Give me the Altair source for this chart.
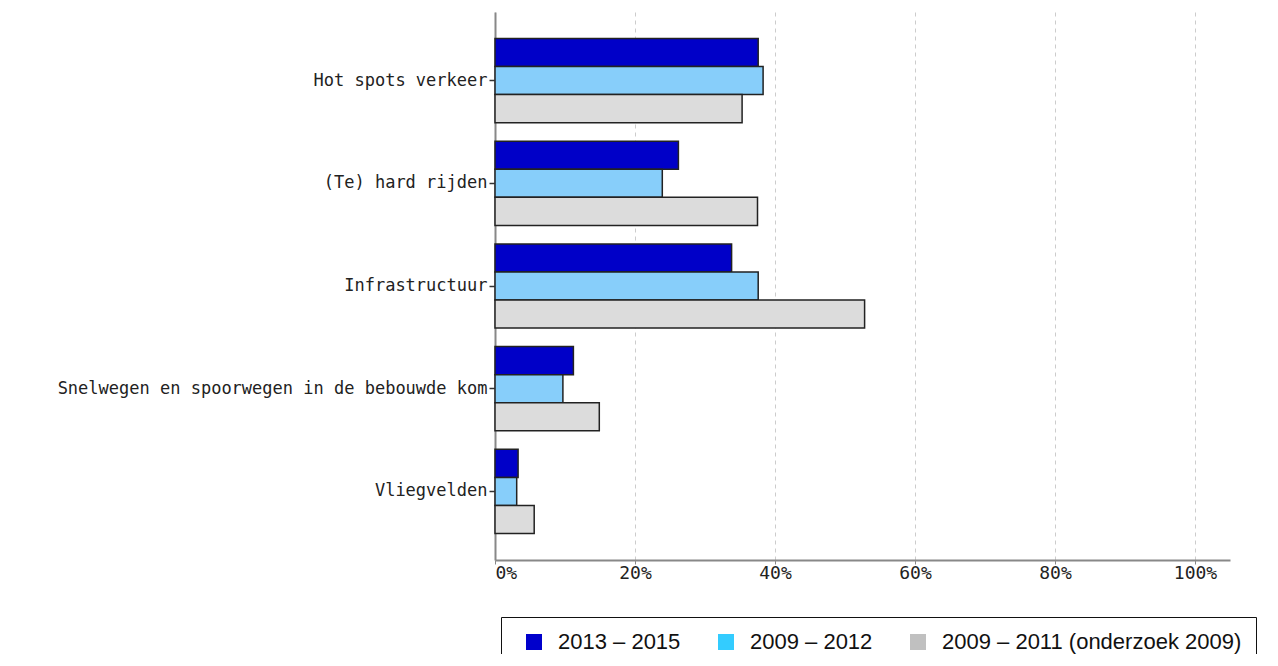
import altair as alt
import pandas as pd

categories = ["Hot spots verkeer", "(Te) hard rijden", "Infrastructuur",
              "Snelwegen en spoorwegen in de bebouwde kom", "Vliegvelden"]
series = ["2013 – 2015", "2009 – 2012", "2009 – 2011 (onderzoek 2009)"]
vals_2013_2015 = [37.6, 26.2, 33.8, 11.2, 3.3]
vals_2009_2012 = [38.3, 23.9, 37.6, 9.7, 3.1]
vals_2009_2011 = [35.3, 37.5, 52.8, 14.9, 5.6]
bar_colors = ["#0000C8", "#87CEFA", "#DCDCDC"]
legend_colors = ["#0000CC", "#33CCFF", "#C0C0C0"]
x_ticks = [0, 20, 40, 60, 80, 100]

rows = []
for s, vals in zip(series, [vals_2013_2015, vals_2009_2012, vals_2009_2011]):
    for c, v in zip(categories, vals):
        rows.append({"category": c, "series": s, "bar_series": s, "value": v})
df = pd.DataFrame(rows)

y_enc = alt.Y("category:N", sort=categories, title=None,
              scale=alt.Scale(paddingInner=0.18, paddingOuter=0.257),
              axis=alt.Axis(labelFont="DejaVu Sans Mono", labelFontSize=17, labelColor="#222222",
                            tickColor="#333333", tickSize=6, tickWidth=1.5, labelPadding=2,
                            labelLimit=600,
                            domainColor="#888888", domainWidth=2, grid=False))

bars = alt.Chart(df).mark_bar(stroke="#222222", strokeWidth=1.5).encode(
    x=alt.X("value:Q", title=None,
            scale=alt.Scale(domain=[0, 105], nice=False),
            axis=alt.Axis(values=x_ticks, labelExpr="datum.value + '%'",
                          labelFont="DejaVu Sans Mono", labelFontSize=18, labelColor="#222222",
                          tickColor="#888888", tickSize=4, labelPadding=0,
                          domainColor="#888888", domainWidth=2,
                          grid=True, gridDash=[4, 4], gridColor="#cccccc", gridWidth=1)),
    y=y_enc,
    yOffset=alt.YOffset("series:N", sort=series, scale=alt.Scale(paddingInner=0, paddingOuter=0)),
    fill=alt.Fill("bar_series:N", sort=series,
                  scale=alt.Scale(range=bar_colors), legend=None),
)

legend_layer = alt.Chart(df).mark_square(size=0, strokeWidth=0).encode(
    x=alt.value(0),
    y=alt.Y("category:N", sort=categories),
    color=alt.Color("series:N", sort=series,
                    scale=alt.Scale(domain=series, range=legend_colors),
                    legend=alt.Legend(title=None, orient="none", legendX=6, legendY=605,
                                      direction="horizontal", strokeColor="#111111",
                                      padding=14, symbolOffset=8,
                                      symbolType="square", symbolSize=256,
                                      symbolOpacity=1, symbolStrokeWidth=0,
                                      labelFont="Liberation Sans", labelFontSize=22,
                                      labelOffset=13,
                                      labelColor="#111111", columnPadding=26,
                                      labelLimit=600)),
)

chart = alt.layer(bars, legend_layer).properties(
    width=735, height=548,
    autosize=alt.AutoSizeParams(type="none"),
    padding={"left": 487, "top": 4, "right": 40, "bottom": 94},
).configure_view(stroke=None)

chart.save("out.html", embed_options={"renderer": "svg", "actions": False})
